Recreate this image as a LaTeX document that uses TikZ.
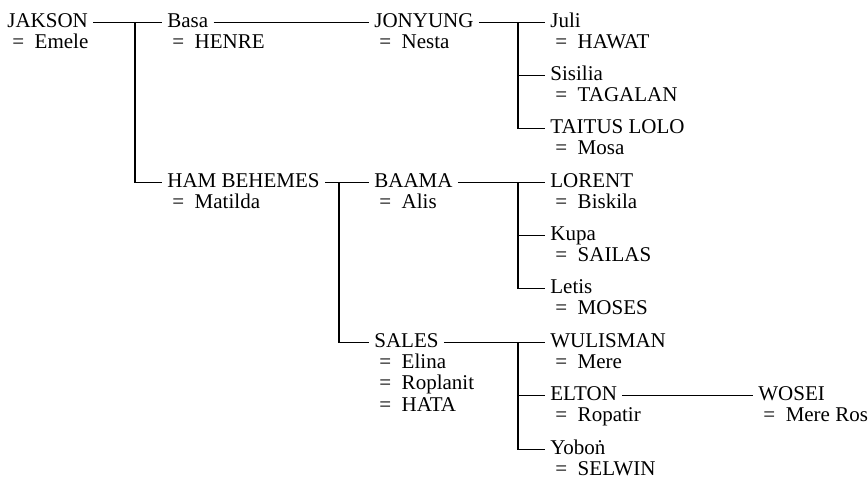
\documentclass[tikz,border=0pt]{standalone}
\usepackage{fontspec}
\setmainfont{Liberation Serif}
\usepackage{tikz}
\usetikzlibrary{positioning}

\begin{document}
\begin{tikzpicture}[x=0.5pt, y=-0.5pt,
    person/.style={font=\fontsize{10.5}{10.5}\selectfont, inner sep=0pt, anchor=base west},
    spouse/.style={person},
    famline/.style={line width=0.8pt, shorten >=2.5pt},
    tie/.style={famline, shorten <=2.5pt}]
  \useasboundingbox (0,0) rectangle (868,478);
  % first generation
  \node[person] (jakson) at (7,27) {JAKSON};
  \node[spouse] (jaksonS) at (12,48.5) {=\enspace Emele};
  % second generation
  \node[person] (basa) at (167,27) {Basa};
  \node[spouse] (basaS) at (172,48.5) {=\enspace HENRE};
  \node[person] (hambehemes) at (167,187) {HAM BEHEMES};
  \node[spouse] (hambehemesS) at (172,208.5) {=\enspace Matilda};
  % third generation
  \node[person] (jonyung) at (374,27) {JONYUNG};
  \node[spouse] (jonyungS) at (379,48.5) {=\enspace Nesta};
  \node[person] (baama) at (374,187) {BAAMA};
  \node[spouse] (baamaS) at (379,208.5) {=\enspace Alis};
  \node[person] (sales) at (374,347) {SALES};
  \node[spouse] (salesS1) at (379,368) {=\enspace Elina};
  \node[spouse] (salesS2) at (379,389.5) {=\enspace Roplanit};
  \node[spouse] (salesS3) at (379,411) {=\enspace HATA};
  % fourth generation
  \node[person] (juli) at (550,27) {Juli};
  \node[spouse] (juliS) at (555,48.5) {=\enspace HAWAT};
  \node[person] (sisilia) at (550,80) {Sisilia};
  \node[spouse] (sisiliaS) at (555,101.5) {=\enspace TAGALAN};
  \node[person] (taitus) at (550,133) {TAITUS LOLO};
  \node[spouse] (taitusS) at (555,154.5) {=\enspace Mosa};
  \node[person] (lorent) at (550,187) {LORENT};
  \node[spouse] (lorentS) at (555,208.5) {=\enspace Biskila};
  \node[person] (kupa) at (550,240) {Kupa};
  \node[spouse] (kupaS) at (555,261.5) {=\enspace SAILAS};
  \node[person] (letis) at (550,293) {Letis};
  \node[spouse] (letisS) at (555,314.5) {=\enspace MOSES};
  \node[person] (wulisman) at (550,347) {WULISMAN};
  \node[spouse] (wulismanS) at (555,368.5) {=\enspace Mere};
  \node[person] (elton) at (550,400) {ELTON};
  \node[spouse] (eltonS) at (555,421.5) {=\enspace Ropatir};
  \node[person] (yobon) at (550,454) {Yoboṅ};
  \node[spouse] (yobonS) at (555,475.5) {=\enspace SELWIN};
  % fifth generation
  \node[person] (wosei) at (758,400) {WOSEI};
  \node[spouse] (woseiS) at (763,421.5) {=\enspace Mere Ros};

  % forks where the children branch off
  \coordinate[left=16pt of basa.mid west] (jfork);
  \coordinate[left=17.5pt of baama.mid west] (hfork);
  \coordinate[left=16pt of juli.mid west] (jyfork);
  \coordinate[left=16pt of lorent.mid west] (bfork);
  \coordinate[left=16pt of wulisman.mid west] (sfork);

  \draw[tie] (jakson.mid east) -- (basa.mid west);
  \draw[famline] (jfork) |- (hambehemes.mid west);
  \draw[tie] (basa.mid east) -- (jonyung.mid west);
  \draw[tie] (jonyung.mid east) -- (juli.mid west);
  \draw[famline] (jyfork) |- (sisilia.mid west);
  \draw[famline] (jyfork) |- (taitus.mid west);
  \draw[tie] (hambehemes.mid east) -- (baama.mid west);
  \draw[famline] (hfork) |- (sales.mid west);
  \draw[tie] (baama.mid east) -- (lorent.mid west);
  \draw[famline] (bfork) |- (kupa.mid west);
  \draw[famline] (bfork) |- (letis.mid west);
  \draw[tie] (sales.mid east) -- (wulisman.mid west);
  \draw[famline] (sfork) |- (elton.mid west);
  \draw[famline] (sfork) |- (yobon.mid west);
  \draw[tie] (elton.mid east) -- (wosei.mid west);
\end{tikzpicture}
\end{document}
